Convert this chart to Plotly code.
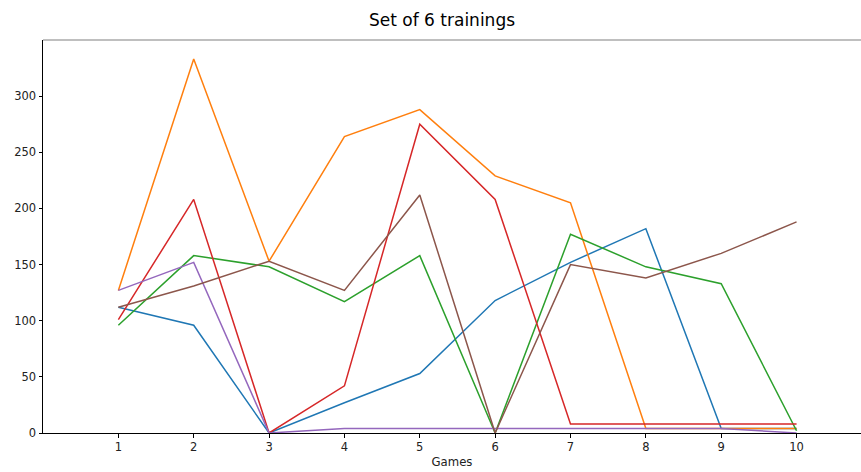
import plotly.graph_objects as go

games = [1, 2, 3, 4, 5, 6, 7, 8, 9, 10]
run_blue = [112, 96, 0, 27, 53, 118, 152, 182, 4, 4]
run_orange = [127, 333, 153, 264, 288, 229, 205, 4, 4, 4]
run_green = [96, 158, 148, 117, 158, 0, 177, 148, 133, 2]
run_red = [101, 208, 0, 42, 275, 208, 8, 8, 8, 8]
run_purple = [127, 152, 0, 4, 4, 4, 4, 4, 4, 0]
run_brown = [112, 131, 153, 127, 212, 0, 150, 138, 160, 188]

series = [run_blue, run_orange, run_green, run_red, run_purple, run_brown]
colors = ["#1f77b4", "#ff7f0e", "#2ca02c", "#d62728", "#9467bd", "#8c564b"]
y_ticks = [0, 50, 100, 150, 200, 250, 300]

fig = go.Figure()
for s, c in zip(series, colors):
    fig.add_trace(go.Scatter(x=games, y=s, mode="lines",
                             line=dict(color=c, width=1.5), showlegend=False))

W, H = 861, 472
L, T, B, R = 43, 40, 39, 0
fig.update_layout(
    width=W, height=H,
    margin=dict(l=L, r=R, t=T, b=B),
    paper_bgcolor="white", plot_bgcolor="white",
    font=dict(family="DejaVu Sans", size=11.5, color="#222222"),
    xaxis=dict(range=[0, 10.855], tickvals=games, ticks="outside", ticklen=3.5,
               tickcolor="black", showgrid=False, zeroline=False,
               showline=True, linecolor="black", linewidth=1,
               title=dict(text="Games", font=dict(size=11.7), standoff=4)),
    yaxis=dict(range=[0, 350], tickvals=y_ticks, ticks="outside", ticklen=3.5,
               tickcolor="black", showgrid=False, zeroline=False,
               showline=True, linecolor="black", linewidth=1),
    shapes=[dict(type="line", xref="paper", yref="paper", x0=0, x1=1, y0=1, y1=1,
                 line=dict(color="#808080", width=1.2))],
    annotations=[dict(text="Set of 6 trainings", xref="paper", yref="paper",
                      x=(441.5 - L) / (W - L - R), y=1 + (T - 19.5) / (H - T - B),
                      xanchor="center", yanchor="middle", showarrow=False,
                      font=dict(size=17, family="DejaVu Sans", color="black"))],
)
fig.write_html("out.html", config={"displayModeBar": False},
               post_script="document.body.style.margin='0';document.body.style.overflow='hidden';")
